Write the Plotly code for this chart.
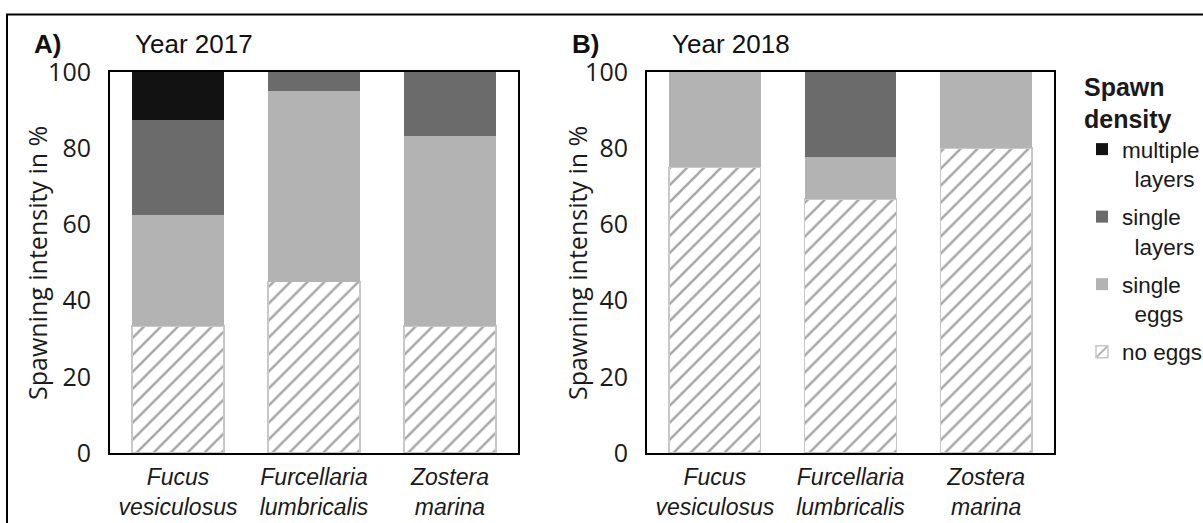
import plotly.graph_objects as go
from plotly.subplots import make_subplots

species = ["Fucus vesiculosus", "Furcellaria lumbricalis", "Zostera marina"]
species_labels = ["<i>Fucus</i><br><i>vesiculosus</i>",
                  "<i>Furcellaria</i><br><i>lumbricalis</i>",
                  "<i>Zostera</i><br><i>marina</i>"]

# Year 2017 (% of samples per spawn density class)
no_eggs_2017 = [33.3, 45.0, 33.3]
single_eggs_2017 = [29.2, 50.0, 50.0]
single_layers_2017 = [25.0, 5.0, 16.7]
multiple_layers_2017 = [12.5, 0.0, 0.0]

# Year 2018
no_eggs_2018 = [75.0, 66.7, 80.0]
single_eggs_2018 = [25.0, 11.1, 20.0]
single_layers_2018 = [0.0, 22.2, 0.0]
multiple_layers_2018 = [0.0, 0.0, 0.0]

y_ticks = [0, 20, 40, 60, 80, 100]

W, H = 1203, 523

fig = make_subplots(rows=1, cols=2)

def add_year(col, no_eggs, s_eggs, s_layers, m_layers, show):
    fig.add_trace(go.Bar(
        x=species, y=no_eggs, name="no eggs", legendgroup="no", legendrank=4,
        showlegend=show,
        marker=dict(color="white",
                    pattern=dict(shape="/", fgcolor="#4a4a4a", bgcolor="white",
                                 size=12, solidity=0.2),
                    line=dict(color="#c8c8c8", width=1.5)),
    ), row=1, col=col)
    fig.add_trace(go.Bar(
        x=species, y=s_eggs, name="single<br>&nbsp;&nbsp;eggs", legendgroup="se",
        legendrank=3, showlegend=show,
        marker=dict(color="#b3b3b3", line=dict(width=0)),
    ), row=1, col=col)
    fig.add_trace(go.Bar(
        x=species, y=s_layers, name="single<br>&nbsp;&nbsp;layers", legendgroup="sl",
        legendrank=2, showlegend=show,
        marker=dict(color="#6b6b6b", line=dict(width=0)),
    ), row=1, col=col)
    fig.add_trace(go.Bar(
        x=species, y=m_layers, name="multiple<br>&nbsp;&nbsp;layers", legendgroup="ml",
        legendrank=1, showlegend=show,
        marker=dict(color="#121212", line=dict(width=0)),
    ), row=1, col=col)

add_year(1, no_eggs_2017, single_eggs_2017, single_layers_2017, multiple_layers_2017, True)
add_year(2, no_eggs_2018, single_eggs_2018, single_layers_2018, multiple_layers_2018, False)

y0 = 1 - 453 / H
y1 = 1 - 72 / H

axis_common = dict(showline=True, linecolor="black", linewidth=2, mirror=True,
                   showgrid=False, zeroline=False, ticks="", automargin=False)

fig.update_xaxes(**axis_common, tickmode="array", tickvals=species, ticktext=species_labels,
                 tickfont=dict(family="Liberation Sans, Arial", size=23, color="#1a1a1a"),
                 ticklabelstandoff=2)
fig.update_yaxes(**axis_common, range=[0, 100], tickmode="array", tickvals=y_ticks,
                 tickfont=dict(family="Open Sans", size=25, color="#1a1a1a"),
                 ticklabelstandoff=12)

fig.update_layout(
    xaxis=dict(domain=[110 / W, 518 / W]),
    xaxis2=dict(domain=[647 / W, 1054 / W]),
    yaxis=dict(domain=[y0, y1]),
    yaxis2=dict(domain=[y0, y1]),
)

fig.update_layout(
    width=W, height=H,
    margin=dict(l=0, r=0, t=0, b=0, autoexpand=False),
    paper_bgcolor="white", plot_bgcolor="white",
    barmode="stack", bargap=0.324,
    font=dict(family="Liberation Sans, Arial", color="#1a1a1a"),
    legend=dict(
        x=1082 / W, y=1 - 63 / H, xanchor="left", yanchor="top",
        traceorder="grouped", valign="top",
        title=dict(text="<b>Spawn<br>density</b>",
                   font=dict(family="Liberation Sans, Arial", size=25, color="#1a1a1a")),
        font=dict(family="Liberation Sans, Arial", size=22.5, color="#1a1a1a"),
        bgcolor="rgba(0,0,0,0)", tracegroupgap=6,
    ),
)

ann_font = dict(family="Liberation Sans, Arial", size=26, color="#111111")
annotations = [
    dict(text="<b>A)</b>", x=32 / W, y=1 - 44 / H, xanchor="left", yanchor="middle"),
    dict(text="Year 2017", x=133 / W, y=1 - 44 / H, xanchor="left", yanchor="middle"),
    dict(text="<b>B)</b>", x=570 / W, y=1 - 44 / H, xanchor="left", yanchor="middle"),
    dict(text="Year 2018", x=670 / W, y=1 - 44 / H, xanchor="left", yanchor="middle"),
]
for a in annotations:
    fig.add_annotation(**a, xref="paper", yref="paper", showarrow=False, font=ann_font)

for xc in (37, 577):
    fig.add_annotation(text="Spawning intensity in %", x=xc / W, y=1 - 263 / H,
                       xref="paper", yref="paper", showarrow=False, textangle=-90,
                       xanchor="center", yanchor="middle",
                       font=dict(family="Open Sans", size=25, color="#1a1a1a"))

# outer frame of the figure
fig.add_shape(type="rect", xref="paper", yref="paper",
              x0=7 / W, x1=1.05, y0=-0.05, y1=1 - 14.5 / H,
              line=dict(color="black", width=2), fillcolor="rgba(0,0,0,0)", layer="above")

fig.write_html("out.html")
